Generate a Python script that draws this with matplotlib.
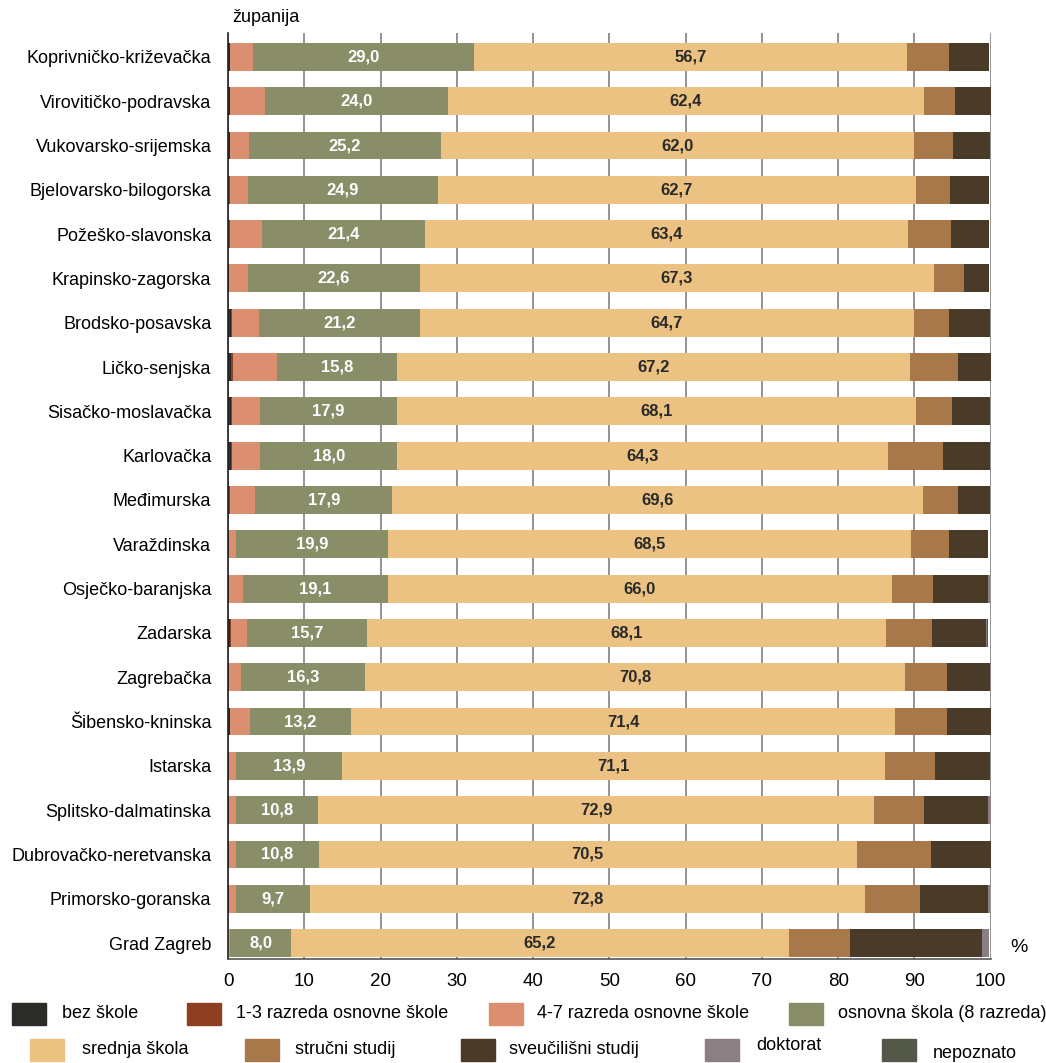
import numpy as np
import matplotlib.pyplot as plt
from matplotlib.patches import Rectangle

plt.rcParams['font.family'] = ['Liberation Sans', 'DejaVu Sans']

# data (top to bottom)
counties = ['Koprivničko-križevačka', 'Virovitičko-podravska', 'Vukovarsko-srijemska',
            'Bjelovarsko-bilogorska', 'Požeško-slavonska', 'Krapinsko-zagorska',
            'Brodsko-posavska', 'Ličko-senjska', 'Sisačko-moslavačka', 'Karlovačka',
            'Međimurska', 'Varaždinska', 'Osječko-baranjska', 'Zadarska', 'Zagrebačka',
            'Šibensko-kninska', 'Istarska', 'Splitsko-dalmatinska', 'Dubrovačko-neretvanska',
            'Primorsko-goranska', 'Grad Zagreb']
bez_skole = [0.2, 0.2, 0.2, 0.1, 0.1, 0.1, 0.4, 0.4, 0.4, 0.4, 0.1, 0.1, 0.1, 0.3, 0.1, 0.2, 0.1, 0.1, 0.1, 0.1, 0.0]
r1_3 = [0.1, 0.1, 0.1, 0.1, 0.1, 0.0, 0.1, 0.2, 0.1, 0.1, 0.1, 0.0, 0.0, 0.1, 0.0, 0.1, 0.0, 0.0, 0.0, 0.0, 0.0]
r4_7 = [3.0, 4.5, 2.4, 2.4, 4.2, 2.5, 3.5, 5.8, 3.7, 3.7, 3.4, 1.0, 1.8, 2.1, 1.6, 2.6, 1.0, 0.9, 1.0, 0.9, 0.3]
osnovna = [29.0, 24.0, 25.2, 24.9, 21.4, 22.6, 21.2, 15.8, 17.9, 18.0, 17.9, 19.9, 19.1, 15.7, 16.3, 13.2, 13.9, 10.8, 10.8, 9.7, 8.0]
srednja = [56.7, 62.4, 62.0, 62.7, 63.4, 67.3, 64.7, 67.2, 68.1, 64.3, 69.6, 68.5, 66.0, 68.1, 70.8, 71.4, 71.1, 72.9, 70.5, 72.8, 65.2]
strucni = [5.5, 4.1, 5.1, 4.5, 5.6, 4.0, 4.6, 6.3, 4.7, 7.2, 4.6, 5.0, 5.4, 6.0, 5.5, 6.8, 6.6, 6.6, 9.7, 7.2, 8.0]
sveucilisni = [5.3, 4.7, 4.9, 5.1, 5.0, 3.3, 5.4, 4.3, 5.0, 6.2, 4.2, 5.2, 7.2, 7.1, 5.6, 5.8, 7.2, 8.4, 7.9, 8.9, 17.4]
doktorat = [0.0, 0.0, 0.0, 0.0, 0.0, 0.0, 0.0, 0.0, 0.0, 0.0, 0.0, 0.0, 0.3, 0.1, 0.3, 0.0, 0.0, 0.3, 0.1, 0.3, 0.9]
nepoznato = [0.0, 0.0, 0.0, 0.0, 0.0, 0.0, 0.0, 0.0, 0.0, 0.0, 0.0, 0.0, 0.0, 0.2, 0.0, 0.0, 0.0, 0.0, 0.0, 0.0, 0.0]

series_names = ['bez škole', '1-3 razreda osnovne škole', '4-7 razreda osnovne škole',
                'osnovna škola (8 razreda)', 'srednja škola', 'stručni studij',
                'sveučilišni studij', 'doktorat', 'nepoznato']
series = [bez_skole, r1_3, r4_7, osnovna, srednja, strucni, sveucilisni, doktorat, nepoznato]
colors = ['#2b2b28', '#8e3f22', '#dc8e70', '#898d68', '#ebc281', '#a8784a', '#4a3b28', '#8c7f83', '#535848']

fig = plt.figure(figsize=(10.46, 10.63), dpi=100)
ax = fig.add_axes([0.218, 0.0978, 0.7292, 0.8712])

y = np.arange(len(counties))
left = np.zeros(len(counties))
for i, (vals, col) in enumerate(zip(series, colors)):
    vals = np.array(vals)
    ax.barh(y, vals, left=left, height=0.63, color=col, zorder=2)
    # value labels only for osnovna and srednja škola
    if i in (3, 4):
        tc = 'white' if i == 3 else '#2a2a2a'
        for yy, l, v in zip(y, left, vals):
            ax.text(l + v / 2, yy, f'{v:.1f}'.replace('.', ','), ha='center', va='center',
                    color=tc, fontsize=12, fontweight='bold', zorder=3)
    left += vals

ax.set_xlim(0, 100)
ax.set_ylim(20.36, -0.54)
ax.set_yticks(y)
ax.set_yticklabels(counties, fontsize=13)
ax.set_xticks(range(0, 101, 10))
ax.tick_params(axis='both', length=0, labelsize=13.5)
ax.tick_params(axis='y', labelsize=13, pad=12)
ax.tick_params(axis='x', pad=10)
ax.grid(axis='x', color='#808080', linewidth=1.2, zorder=0)
ax.set_axisbelow(True)
for s in ['top', 'right']:
    ax.spines[s].set_visible(False)
ax.spines['left'].set_color('#222222')
ax.spines['bottom'].set_color('#555555')
ax.spines['left'].set_linewidth(1.2)
ax.spines['bottom'].set_linewidth(1.2)

fig.text(232 / 1046, 1 - 18 / 1063, 'županija', fontsize=13, ha='left', va='center')
fig.text(1010 / 1046, 1 - 948 / 1063, '%', fontsize=14, ha='left', va='center')

# legend laid out by hand in two rows
box_x = [12, 187, 489, 789, 30, 245, 461, 705, 882]
box_y = [1014, 1014, 1014, 1014, 1050, 1050, 1050, 1050, 1050]
text_x = [62, 236, 537, 838, 82, 295, 509, 756, 933]
text_y = [1013, 1013, 1013, 1013, 1050, 1050, 1050, 1046, 1053]
W, H = 1046, 1063
for name, col, bx, by, tx, ty in zip(series_names, colors, box_x, box_y, text_x, text_y):
    fig.add_artist(Rectangle((bx / W, 1 - (by + 11) / H), 34 / W, 22 / H,
                             transform=fig.transFigure, color=col))
    fig.text(tx / W, 1 - ty / H, name, fontsize=13, ha='left', va='center')

fig.savefig('out.png', dpi=100)
